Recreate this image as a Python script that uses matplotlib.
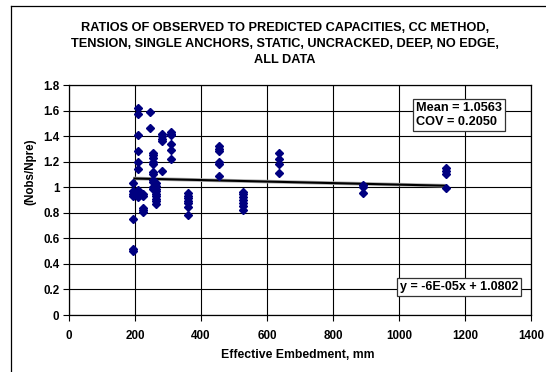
import matplotlib
matplotlib.use("Agg")
import matplotlib.pyplot as plt
from matplotlib.lines import Line2D

plt.rcParams['font.family'] = ['Liberation Sans', 'DejaVu Sans']

# ---- data ----
embed_195 = [1.03, 0.97, 0.95, 0.93, 0.75, 0.52, 0.50]
embed_210 = [1.62, 1.57, 1.41, 1.28, 1.20, 1.14, 0.98, 0.96, 0.94, 0.92]
embed_225 = [0.95, 0.93, 0.84, 0.82, 0.81]
embed_245 = [1.59, 1.46]
embed_255 = [1.27, 1.25, 1.23, 1.20, 1.18, 1.12, 1.10, 1.06, 1.04, 1.00, 0.99]
embed_265 = [1.03, 1.01, 0.99, 0.97, 0.95, 0.93, 0.91, 0.89, 0.87]
embed_283 = [1.42, 1.40, 1.38, 1.36, 1.13]
embed_308 = [1.43, 1.42, 1.41, 1.34, 1.29, 1.22]
embed_360 = [0.955, 0.935, 0.915, 0.895, 0.875, 0.845, 0.785]
embed_455 = [1.32, 1.30, 1.28, 1.20, 1.18, 1.09]
embed_527 = [0.965, 0.945, 0.925, 0.90, 0.875, 0.85, 0.825]
embed_637 = [1.27, 1.22, 1.18, 1.11]
embed_892 = [1.02, 1.00, 0.955]
embed_1142 = [1.15, 1.125, 1.10, 0.995]

groups = {
    195: embed_195, 210: embed_210, 225: embed_225, 245: embed_245,
    255: embed_255, 265: embed_265, 283: embed_283, 308: embed_308,
    360: embed_360, 455: embed_455, 527: embed_527, 637: embed_637,
    892: embed_892, 1142: embed_1142,
}

trend_slope = -6e-05
trend_intercept = 1.0802
mean_text = "Mean = 1.0563\nCOV = 0.2050"
eq_text = "y = -6E-05x + 1.0802"
title_text = ("RATIOS OF OBSERVED TO PREDICTED CAPACITIES, CC METHOD,\n"
              "TENSION, SINGLE ANCHORS, STATIC, UNCRACKED, DEEP, NO EDGE,\n"
              "ALL DATA")
x_ticks = [0, 200, 400, 600, 800, 1000, 1200, 1400]
y_ticks = [0, 0.2, 0.4, 0.6, 0.8, 1.0, 1.2, 1.4, 1.6, 1.8]
y_tick_labels = ["0", "0.2", "0.4", "0.6", "0.8", "1", "1.2", "1.4", "1.6", "1.8"]

xs, ys = [], []
for k, vals in groups.items():
    for v in vals:
        xs.append(k)
        ys.append(v)

W, H = 546, 372
fig = plt.figure(figsize=(W / 100, H / 100), dpi=100)
fig.patch.set_facecolor('white')

# outer chart border (left and top only visible)
fig.add_artist(Line2D([11 / W, 11 / W], [0, 1 - 6 / H], color='black', lw=0.9,
                      transform=fig.transFigure))
fig.add_artist(Line2D([11 / W, 1], [1 - 6 / H, 1 - 6 / H], color='black', lw=0.9,
                      transform=fig.transFigure))

left, right, bottom, top = 69, 531, 315, 85
ax = fig.add_axes([left / W, 1 - bottom / H, (right - left) / W, (bottom - top) / H])

ax.set_xlim(0, 1400)
ax.set_ylim(0, 1.8)
ax.set_xticks(x_ticks)
ax.set_yticks(y_ticks)
ax.set_yticklabels(y_tick_labels)
ax.grid(True, color='black', lw=0.8)
ax.set_axisbelow(True)
for s in ax.spines.values():
    s.set_color('black')
    s.set_linewidth(0.9)
ax.tick_params(direction='out', length=4, width=0.8, labelsize=8.4, pad=3)
for lab in ax.get_xticklabels() + ax.get_yticklabels():
    lab.set_fontweight('bold')
ax.tick_params(axis='x', pad=7)

# trendline
xmin, xmax = min(xs), max(xs)
ty = [trend_intercept + trend_slope * xmin, trend_intercept + trend_slope * xmax]
ax.plot([xmin, xmax], ty, color='#aaaaaa', lw=2.6, zorder=3, solid_capstyle='butt')
ax.plot([xmin, xmax], ty, color='black', lw=1.5, zorder=4, solid_capstyle='butt')

ax.plot(xs, ys, linestyle='none', marker='D', markersize=4.2, color='#000080',
        markeredgecolor='#000080', zorder=5)

# text boxes
fig.text(416 / W, 1 - 115 / H, mean_text, fontsize=9.2, fontweight='bold', ha='left', va='center',
         linespacing=1.25,
         bbox=dict(boxstyle='square,pad=0.25', facecolor='white', edgecolor='#333333', lw=0.9))
fig.text(400 / W, 1 - 287 / H, eq_text, fontsize=9.0, fontweight='bold', ha='left', va='center',
         bbox=dict(boxstyle='square,pad=0.22', facecolor='white', edgecolor='#333333', lw=0.9))

fig.text(285 / W, 1 - 44 / H, title_text, fontsize=9.2, fontweight='bold', ha='center', va='center',
         linespacing=1.42)
fig.text(298 / W, 1 - 355 / H, "Effective Embedment, mm", fontsize=8.8, fontweight='bold',
         ha='center', va='center')
fig.text(30 / W, 1 - 172 / H, "(Nobs/Npre)", fontsize=8.4, fontweight='bold', rotation=90,
         ha='center', va='center')

fig.savefig("out.png", dpi=100)
